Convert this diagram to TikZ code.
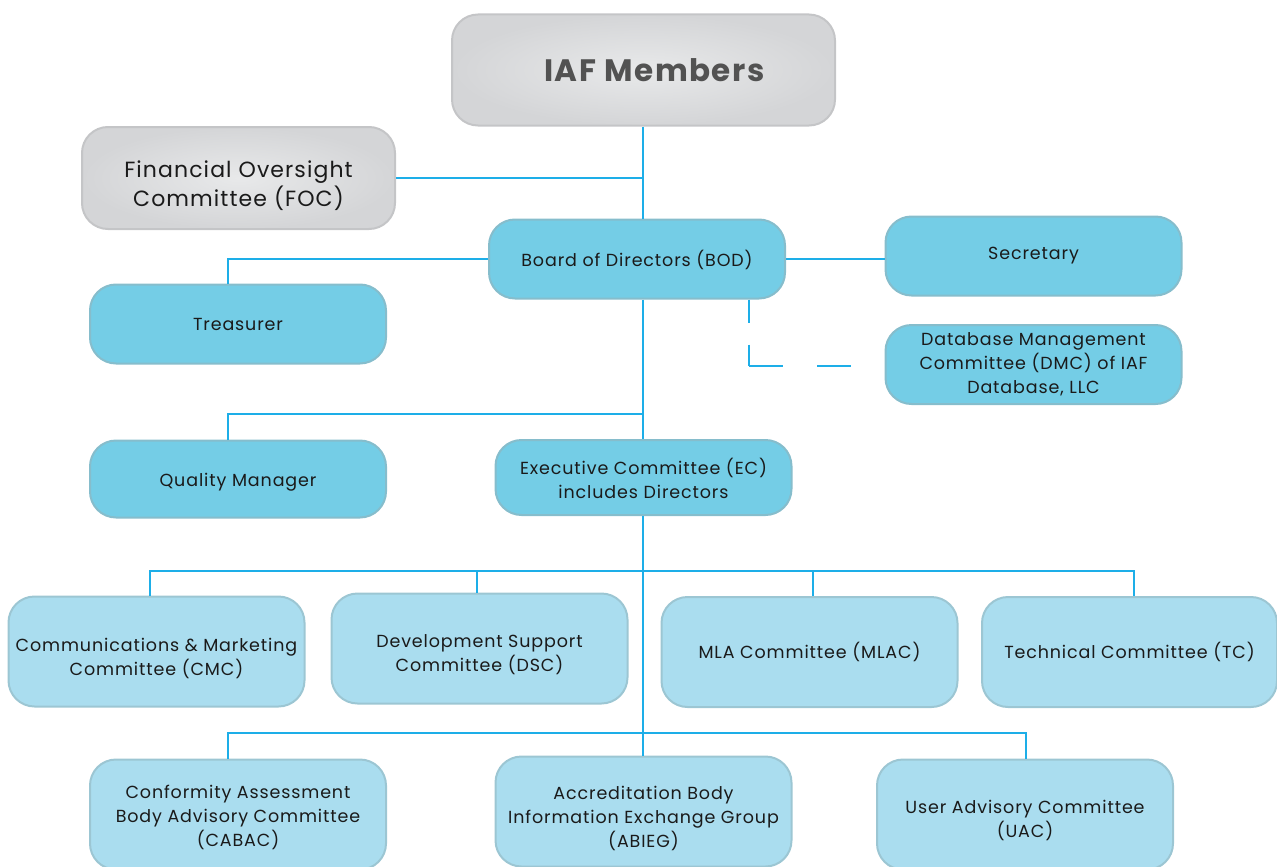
\documentclass[tikz,border=0pt]{standalone}
\usepackage{fontspec}
\setmainfont{Poppins}[LetterSpace=5]
\usetikzlibrary{positioning}
\definecolor{linkblue}{HTML}{1DAEE8}
\definecolor{boxblue}{HTML}{74CDE6}
\definecolor{boxblueedge}{HTML}{86BDCC}
\definecolor{boxpale}{HTML}{AADDEF}
\definecolor{boxpaleedge}{HTML}{9CC6D3}
\definecolor{boxgrey}{HTML}{D4D5D7}
\definecolor{boxgreylight}{HTML}{E8E9EA}
\definecolor{boxgreyedge}{HTML}{C4C5C7}
\definecolor{txtdark}{HTML}{1A1A1A}
% taller first line, pushes the text block down a little
\newcommand{\txtdrop}[1]{\rule{0pt}{#1}}
\begin{document}
\begin{tikzpicture}[x=1pt,y=-1pt]
	\tikzset{orgbox/.style={rounded corners=26pt, line width=2pt, align=center,
				text=txtdark, inner sep=0pt, font=\fontsize{17.5}{24}\selectfont}}
	\tikzset{bluebox/.style={orgbox, draw=boxblueedge, fill=boxblue,
				minimum width=296pt, minimum height=79pt}}
	\tikzset{palebox/.style={orgbox, draw=boxpaleedge, fill=boxpale,
				minimum width=296pt, minimum height=110pt}}
	\tikzset{greybox/.style={orgbox, draw=boxgreyedge, inner color=boxgreylight,
				outer color=boxgrey}}
	\tikzset{link/.style={draw=linkblue, line width=2pt}}
	\tikzset{linkdash/.style={link, dash pattern=on 23pt off 22pt}}

	\useasboundingbox (0,0) rectangle (1277,867);

	% top
	\node[greybox, minimum width=383pt, minimum height=111pt, text=black!68] (iaf) at (643.5,70)
		{\hspace*{22pt}\fontsize{31}{36}\selectfont\bfseries IAF Members};
	\node[greybox, minimum width=313pt, minimum height=102pt,
		font=\fontsize{22}{29}\selectfont] (foc) at (238.5,178) {\txtdrop{32pt}Financial Oversight\\Committee (FOC)};

	% board level
	\node[bluebox] (bod) at (637,259) {\txtdrop{18.5pt}Board of Directors (BOD)};
	\node[bluebox] (sec) at (1033.5,256) {Secretary};
	\node[bluebox] (treas) at (238,324) {Treasurer};
	\node[bluebox] (dmc) at (1033.5,364.5) {Database Management\\Committee (DMC) of IAF\\Database, LLC};
	\node[bluebox, minimum height=77pt] (qm) at (238,479) {\txtdrop{20pt}Quality Manager};
	\node[bluebox, minimum height=75pt] (ec) at (643.5,477.5) {\txtdrop{18.5pt}Executive Committee (EC)\\includes Directors};

	% committees
	\node[palebox] (cmc) at (156.5,651.5) {\txtdrop{26.5pt}Communications \& Marketing\\Committee (CMC)};
	\node[palebox] (dsc) at (479.5,648.5) {\txtdrop{24.5pt}Development Support\\Committee (DSC)};
	\node[palebox] (mlac) at (809.5,652) {MLA Committee (MLAC)};
	\node[palebox, minimum width=295pt] (tc) at (1129.5,652) {Technical Committee (TC)};
	\node[palebox] (cabac) at (238,814.5) {\txtdrop{18.5pt}Conformity Assessment\\Body Advisory Committee\\(CABAC)};
	\node[palebox] (abieg) at (643.5,811.5) {\txtdrop{26.5pt}Accreditation Body\\Information Exchange Group\\(ABIEG)};
	\node[palebox] (uac) at (1025,814.5) {\txtdrop{24.5pt}User Advisory Committee\\(UAC)};

	\coordinate (focjoin) at (643,178);
	\coordinate (qmjoin) at (643,414);
	\coordinate (bustop) at (643,571);
	\coordinate (buslow) at (643,733);
	\coordinate (dmcbend) at (749,366);

	\draw[link] (iaf.south -| bustop) -- (bod.north -| bustop);
	\draw[link] (foc.east) -- (focjoin);
	\draw[link] (bod.west) -| ([xshift=-10pt]treas.north);
	\draw[link] (bod.east) -- (bod.east -| sec.west);
	\draw[link] (bod.south -| bustop) -- (ec.north -| bustop);
	\draw[link] (qmjoin) -| ([xshift=-10pt]qm.north);
	\draw[link] (ec.south -| bustop) -- (abieg.north -| bustop);

	\draw[linkdash] (bod.south -| dmcbend) -- (dmcbend);
	\draw[link, dash pattern=on 34pt off 34pt] (dmcbend) -- (dmcbend -| dmc.west);

	\draw[link] (bustop) -| ([xshift=-7pt]cmc.north);
	\draw[link] (bustop) -| ([xshift=-3pt]dsc.north);
	\draw[link] (bustop) -| ([xshift=3pt]mlac.north);
	\draw[link] (bustop) -| ([xshift=4pt]tc.north);
	\draw[link] (buslow) -| ([xshift=-10pt]cabac.north);
	\draw[link] (buslow) -| ([xshift=1pt]uac.north);
\end{tikzpicture}
\end{document}
